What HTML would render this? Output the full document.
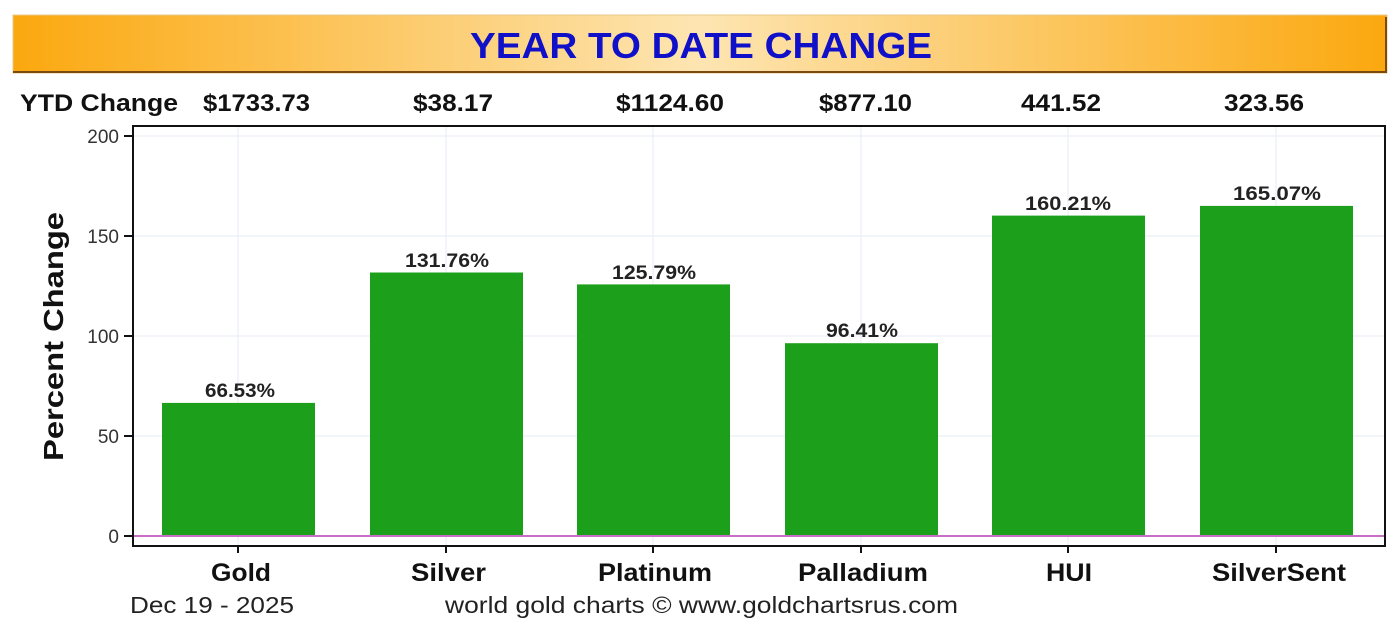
<!DOCTYPE html>
<html><head><style>
body{margin:0;width:1400px;height:630px;background:#fff;overflow:hidden}
svg{display:block}
text{font-family:"Liberation Sans",sans-serif}
</style></head><body>
<svg width="1400" height="630" viewBox="0 0 1400 630">
<defs>
<linearGradient id="g" x1="0" x2="1" y1="0" y2="0">
<stop offset="0" stop-color="#fba80f"/>
<stop offset="0.5" stop-color="#fde5b2"/>
<stop offset="1" stop-color="#fba80f"/>
</linearGradient>
</defs>
<rect x="0" y="0" width="1400" height="630" fill="#fff"/>
<rect x="13" y="15" width="1374" height="58" fill="url(#g)" stroke="#e7c98a" stroke-width="1"/>
<line x1="13" y1="72" x2="1387" y2="72" stroke="#7a4a10" stroke-width="2"/>
<line x1="1386" y1="17" x2="1386" y2="73" stroke="#7a4a10" stroke-width="2"/>
<text x="470" y="58" font-size="36" font-weight="bold" fill="#1010c8" textLength="462" lengthAdjust="spacingAndGlyphs">YEAR TO DATE CHANGE</text>
<g font-size="24" font-weight="bold" fill="#111" lengthAdjust="spacingAndGlyphs">
<text x="20" y="111" textLength="158" lengthAdjust="spacingAndGlyphs">YTD Change</text>
<text x="203" y="111" textLength="107" lengthAdjust="spacingAndGlyphs">$1733.73</text>
<text x="413" y="111" textLength="80" lengthAdjust="spacingAndGlyphs">$38.17</text>
<text x="616" y="111" textLength="108" lengthAdjust="spacingAndGlyphs">$1124.60</text>
<text x="819" y="111" textLength="93" lengthAdjust="spacingAndGlyphs">$877.10</text>
<text x="1021" y="111" textLength="80" lengthAdjust="spacingAndGlyphs">441.52</text>
<text x="1224" y="111" textLength="80" lengthAdjust="spacingAndGlyphs">323.56</text>
</g>
<g stroke="#e6eef4" stroke-width="1">
<line x1="134" y1="136" x2="1384" y2="136"/><line x1="134" y1="236" x2="1384" y2="236"/>
<line x1="134" y1="336" x2="1384" y2="336"/><line x1="134" y1="436" x2="1384" y2="436"/>
<line x1="238" y1="127" x2="238" y2="545"/><line x1="446" y1="127" x2="446" y2="545"/>
<line x1="653" y1="127" x2="653" y2="545"/><line x1="861" y1="127" x2="861" y2="545"/>
<line x1="1068" y1="127" x2="1068" y2="545"/><line x1="1276" y1="127" x2="1276" y2="545"/>
</g>
<g fill="#1ca01c">
<rect x="162" y="402.9" width="153" height="133.1"/>
<rect x="370" y="272.5" width="153" height="263.5"/>
<rect x="577" y="284.4" width="153" height="251.6"/>
<rect x="785" y="343.2" width="153" height="192.8"/>
<rect x="992" y="215.6" width="153" height="320.4"/>
<rect x="1200" y="205.9" width="153" height="330.1"/>
</g>
<line x1="124" y1="536" x2="1385" y2="536" stroke="#c86ec8" stroke-width="2"/>
<rect x="133" y="126" width="1252" height="420" fill="none" stroke="#111" stroke-width="2"/>
<g stroke="#111" stroke-width="2">
<line x1="124" y1="136" x2="133" y2="136"/><line x1="124" y1="236" x2="133" y2="236"/>
<line x1="124" y1="336" x2="133" y2="336"/><line x1="124" y1="436" x2="133" y2="436"/>
<line x1="124" y1="536" x2="133" y2="536"/>
<line x1="238" y1="546" x2="238" y2="553"/><line x1="446" y1="546" x2="446" y2="553"/>
<line x1="653" y1="546" x2="653" y2="553"/><line x1="861" y1="546" x2="861" y2="553"/>
<line x1="1068" y1="546" x2="1068" y2="553"/><line x1="1276" y1="546" x2="1276" y2="553"/>
</g>
<g font-size="19" fill="#333" text-anchor="end">
<text x="119" y="143">200</text><text x="119" y="243">150</text><text x="119" y="343">100</text>
<text x="119" y="443">50</text><text x="119" y="543">0</text>
</g>
<text transform="translate(63,337) rotate(-90)" x="-124" font-size="28" font-weight="bold" fill="#111" textLength="249" lengthAdjust="spacingAndGlyphs">Percent Change</text>
<g font-size="19" font-weight="bold" fill="#222">
<text x="205" y="397" textLength="70" lengthAdjust="spacingAndGlyphs">66.53%</text>
<text x="405" y="267" textLength="84" lengthAdjust="spacingAndGlyphs">131.76%</text>
<text x="612" y="279" textLength="84" lengthAdjust="spacingAndGlyphs">125.79%</text>
<text x="826" y="337" textLength="72" lengthAdjust="spacingAndGlyphs">96.41%</text>
<text x="1025" y="210" textLength="86" lengthAdjust="spacingAndGlyphs">160.21%</text>
<text x="1233" y="200" textLength="88" lengthAdjust="spacingAndGlyphs">165.07%</text>
</g>
<g font-size="25" font-weight="bold" fill="#111">
<text x="211" y="581" textLength="60" lengthAdjust="spacingAndGlyphs">Gold</text>
<text x="411" y="581" textLength="75" lengthAdjust="spacingAndGlyphs">Silver</text>
<text x="598" y="581" textLength="114" lengthAdjust="spacingAndGlyphs">Platinum</text>
<text x="798" y="581" textLength="130" lengthAdjust="spacingAndGlyphs">Palladium</text>
<text x="1046" y="581" textLength="46" lengthAdjust="spacingAndGlyphs">HUI</text>
<text x="1212" y="581" textLength="134" lengthAdjust="spacingAndGlyphs">SilverSent</text>
</g>
<text x="130" y="613" font-size="23" fill="#222" textLength="164" lengthAdjust="spacingAndGlyphs">Dec 19 - 2025</text>
<text x="445" y="613" font-size="23" fill="#222" textLength="513" lengthAdjust="spacingAndGlyphs">world gold charts © www.goldchartsrus.com</text>
</svg>
</body></html>
